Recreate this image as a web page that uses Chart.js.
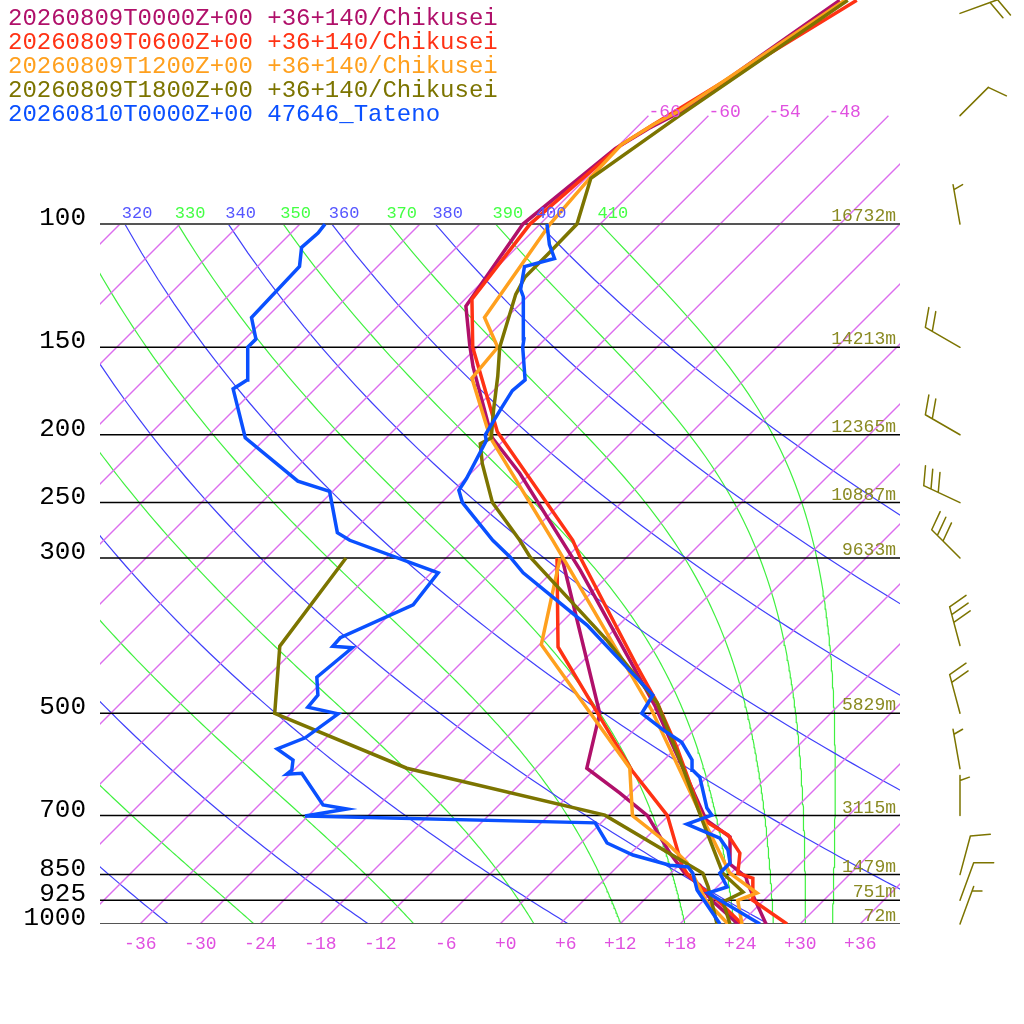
<!DOCTYPE html>
<html>
<head>
<meta charset="utf-8">
<title>Skew-T Chikusei / Tateno</title>
<script src="https://cdn.jsdelivr.net/npm/chart.js@4.4.1/dist/chart.umd.min.js"></script>
<style>
  html, body { margin: 0; padding: 0; background: #fff; }
  #skewt { display: block; width: 1024px; height: 1024px; }
</style>
</head>
<body>
<canvas id="skewt" width="1024" height="1024"></canvas>
<script>
// ---- series (pressure hPa, temperature degC) ----

// 20260810T0000Z Tateno sounding
const tatenoP  = [1000, 903, 885, 846, 818, 784, 754, 720, 699, 683, 617, 603, 583, 550, 528, 500, 483, 471, 374, 315, 299, 283, 250, 240, 231, 204, 200, 184, 173, 167, 150, 146, 127, 124, 115, 112, 107, 100];
const tatenoT  = [26.0, 17.7, 19.0, 16.9, 16.9, 15.4, 13.4, 8.7, 10.3, 9.1, 5.3, 3.9, 2.8, 0.0, -3.1, -6.9, -7.3, -7.6, -21.2, -32.8, -35.7, -39.1, -45.9, -47.5, -47.9, -49.7, -50.4, -51.4, -52.1, -51.9, -55.4, -56.1, -60.4, -61.4, -63.3, -61.1, -63.0, -65.3];
const tatenoTdP = [1000, 894, 846, 829, 824, 797, 766, 717, 701, 685, 676, 609, 611, 603, 583, 562, 542, 501, 490, 471, 444, 403, 401, 390, 350, 315, 283, 276, 241, 233, 202, 172, 167, 150, 146, 136, 115, 108, 103, 100];
const tatenoTd = [22.0, 16.3, 14.2, 13.1, 11.1, 6.4, 2.6, -0.6, -30.3, -26.8, -29.6, -34.9, -36.3, -36.2, -37.1, -39.8, -38.1, -37.2, -40.9, -41.1, -43.0, -42.4, -44.5, -44.6, -40.6, -41.3, -53.4, -55.4, -60.3, -64.5, -74.1, -80.2, -79.7, -82.9, -82.9, -85.5, -85.8, -87.5, -87.3, -87.5];

// 20260809T1800Z model
const t18P  = [1000, 930, 900, 846, 710, 583, 483, 393, 299, 283, 250, 220, 206, 202, 184, 165, 150, 126, 119, 110, 100, 86, 70, 47.9];
const t18T  = [23.0, 20.1, 21.1, 17.2, 9.8, 1.6, -6.4, -17.7, -33.7, -36.4, -42.9, -47.8, -50.0, -49.5, -52.1, -55.0, -57.7, -61.4, -62.2, -62.2, -62.3, -65.5, -62.9, -57.6];
const t18TdP = [1000, 885, 846, 699, 599, 500, 401, 300];
const t18Td  = [21.7, 17.1, 15.2, -0.4, -24.9, -43.6, -49.8, -52.0];

// 20260809T1200Z model
const t12P  = [1000, 925, 903, 846, 694, 495, 312, 283, 204, 195, 166, 150, 136, 100, 86, 77, 72, 69, 47.9];
const t12T  = [24.2, 21.4, 22.6, 17.9, 8.9, -6.2, -28.4, -33.1, -49.1, -51.0, -57.4, -57.9, -62.2, -65.0, -65.6, -65.8, -64.6, -63.4, -57.9];
const t12TdP = [1000, 925, 816, 766, 700, 599, 399, 300];
const t12Td  = [22.8, 18.2, 12.5, 8.6, 2.4, -2.6, -23.8, -30.6];

// 20260809T0600Z model
const t06P  = [1000, 925, 860, 846, 792, 746, 710, 559, 483, 429, 299, 283, 198, 150, 128, 100, 77, 72, 47.9];
const t06T  = [28.7, 22.9, 20.7, 18.7, 16.9, 13.9, 9.9, 0.0, -6.4, -12.0, -28.7, -31.1, -49.5, -60.4, -65.3, -67.0, -65.8, -64.6, -56.7];
const t06TdP = [1000, 909, 885, 846, 824, 700, 603, 500, 402, 300];
const t06Td  = [24.2, 18.3, 16.3, 13.6, 12.3, 5.9, -2.2, -11.3, -21.9, -30.9];

// 20260809T0000Z model
const t00P  = [1000, 877, 857, 821, 751, 710, 487, 312, 227, 202, 197, 160, 149, 131, 100, 78, 73, 69, 47.9];
const t00T  = [26.6, 20.8, 19.9, 17.0, 14.3, 10.2, -6.4, -27.4, -43.1, -49.4, -50.4, -58.4, -60.9, -65.2, -67.7, -66.0, -64.7, -63.1, -58.4];
const t00TdP = [1000, 925, 880, 846, 792, 700, 650, 599, 500, 300];
const t00Td  = [23.8, 18.8, 16.1, 13.4, 9.9, 3.9, -1.1, -6.9, -11.1, -30.4];

// winds of the 1800Z run (direction deg, speed kt)
const windP   = [1000, 925, 850, 700, 600, 500, 400, 300, 250, 200, 150, 100, 70, 50];
const windDir = [20, 20, 15, 0, 350, 345, 345, 315, 295, 300, 300, 350, 45, 70];
const windKt  = [5, 10, 10, 5, 5, 20, 30, 30, 30, 20, 20, 5, 10, 20];

// standard levels and their heights
const levelP = [100, 150, 200, 250, 300, 500, 700, 850, 925, 1000];
const levelH = [16732, 14213, 12365, 10887, 9633, 5829, 3115, 1479, 751, 72];

// background families
const tempTicks   = [-36, -30, -24, -18, -12, -6, 0, 6, 12, 18, 24, 30, 36];
const isoTemps    = [-108, -102, -96, -90, -84, -78, -72, -66, -60, -54, -48, -42, -36, -30, -24, -18, -12, -6, 0, 6, 12, 18, 24, 30, 36];
const dryThetas   = [240, 260, 280, 300, 320, 340, 360, 380, 400];
const moistThetas = [250, 270, 290, 310, 330, 350, 370, 390, 410];

const legendNames = [
    '20260809T0000Z+00 +36+140/Chikusei',
    '20260809T0600Z+00 +36+140/Chikusei',
    '20260809T1200Z+00 +36+140/Chikusei',
    '20260809T1800Z+00 +36+140/Chikusei',
    '20260810T0000Z+00 47646_Tateno'
];
const legendColors = ['#b0106a', '#ff3214', '#ffa01e', '#7c7400', '#0a50ff'];

// ---- skew-T geometry ----
const SKEW = 30.4;     // x shift (degC) per ln(1000/p)
const P_TOP = 47.85;   // pressure at the top edge of the plot
const MONO = '"Liberation Mono", "DejaVu Sans Mono", monospace';
const ISO_COLOR = 'rgb(220, 110, 238)';
const DRY_COLOR = 'rgb(64, 64, 250)';
const MOIST_COLOR = 'rgb(64, 240, 64)';

function skewX(t, p) {
    return t + SKEW * Math.log(1000 / p);
}

// saturation vapour pressure (hPa) and mixing ratio
function satVap(tc) {
    return 6.112 * Math.exp(17.67 * tc / (tc + 243.5));
}
function satMix(p, tc) {
    const e = satVap(tc);
    return 0.622 * e / (p - e);
}
// Bolton equivalent potential temperature of saturated air
function thetaE(p, tc) {
    const tk = tc + 273.15;
    const r = satMix(p, tc);
    return tk * Math.pow(1000 / p, 0.2854 * (1 - 0.28 * r)) * Math.exp((3376 / tk - 2.54) * r * (1 + 0.81 * r));
}
// pseudo-adiabatic lapse dT/dp
function moistLapse(p, tc) {
    const tk = tc + 273.15;
    const r = satMix(p, tc);
    const Rd = 287.04, cp = 1005.7, L = 2.501e6;
    return (Rd * tk + L * r) / (cp + L * L * r * 0.622 / (Rd * tk * tk)) / p;
}

function profileSet(pArr, tArr, color) {
    return {
        data: pArr.map((p, i) => ({ x: skewX(tArr[i], p), y: p })),
        borderColor: color,
        backgroundColor: color,
        borderWidth: 3.5,
        showLine: true,
        pointRadius: 0,
        tension: 0,
        fill: false
    };
}

function bgSet(points, color, width) {
    return {
        data: points,
        borderColor: color,
        backgroundColor: color,
        borderWidth: width || 1,
        showLine: true,
        pointRadius: 0,
        tension: 0,
        fill: false
    };
}

// isotherms: the warm ones reach 70 hPa
// (a 1px hairline at exactly 45 degrees comes out grey, so they get 1.4px)
const isoSets = isoTemps.map(t => {
    const top = t >= -66 ? 70 : 100;
    return bgSet([{ x: skewX(t, 1000), y: 1000 }, { x: skewX(t, top), y: top }], ISO_COLOR, 1.4);
});

// dry adiabats
const dryLabels = [];
const drySets = dryThetas.map(th => {
    const pts = [];
    for (let p = 1000; p >= 100; p -= 10) {
        const t = th * Math.pow(p / 1000, 0.286) - 273.15;
        pts.push({ x: skewX(t, p), y: p });
    }
    dryLabels.push({ text: String(th), x: pts[pts.length - 1].x });
    return bgSet(pts, DRY_COLOR, 1.2);
});

// moist (pseudo) adiabats integrated upward from 1000 hPa
const moistLabels = [];
const moistSets = moistThetas.map(th => {
    let lo = -60, hi = 50;
    for (let k = 0; k < 60; k++) {
        const mid = (lo + hi) / 2;
        if (thetaE(1000, mid) > th) hi = mid; else lo = mid;
    }
    let t = (lo + hi) / 2;
    const pts = [{ x: skewX(t, 1000), y: 1000 }];
    const dp = -5;
    for (let p = 1000; p > 100; p += dp) {
        const k1 = moistLapse(p, t);
        const k2 = moistLapse(p + dp, t + k1 * dp);
        t += 0.5 * (k1 + k2) * dp;
        pts.push({ x: skewX(t, p + dp), y: p + dp });
    }
    moistLabels.push({ text: String(th), x: pts[pts.length - 1].x });
    return bgSet(pts, MOIST_COLOR, 1.2);
});

// pressure level lines
const levelSets = levelP.map(p => {
    const edge = (p === 100 || p === 1000);
    return bgSet([{ x: -40, y: p }, { x: 40, y: p }], edge ? '#555555' : '#000000', edge ? 2 : 1.5);
});

// first dataset is painted last (on top)
const datasets = [
    profileSet(tatenoTdP, tatenoTd, '#0a50ff'),
    profileSet(tatenoP, tatenoT, '#0a50ff'),
    profileSet(t18TdP, t18Td, '#7c7400'),
    profileSet(t18P, t18T, '#7c7400'),
    profileSet(t12TdP, t12Td, '#ffa01e'),
    profileSet(t12P, t12T, '#ffa01e'),
    profileSet(t06TdP, t06Td, '#ff3214'),
    profileSet(t06P, t06T, '#ff3214'),
    profileSet(t00TdP, t00Td, '#b0106a'),
    profileSet(t00P, t00T, '#b0106a'),
    ...levelSets,
    ...isoSets,
    ...drySets,
    ...moistSets
];

// text, labels and wind barbs
const decorPlugin = {
    id: 'skewDecor',
    afterDraw(chart) {
        const ctx = chart.ctx;
        const xs = chart.scales.x;
        const ys = chart.scales.y;
        const area = chart.chartArea;
        ctx.save();

        // legend block
        ctx.font = '24px ' + MONO;
        ctx.textAlign = 'left';
        ctx.textBaseline = 'alphabetic';
        legendNames.forEach((name, i) => {
            ctx.fillStyle = legendColors[i];
            ctx.fillText(name, 8, 25 + 24 * i);
        });

        // pressure labels
        ctx.font = '26px ' + MONO;
        ctx.fillStyle = '#000';
        ctx.textAlign = 'right';
        levelP.forEach(p => {
            ctx.fillText(String(p), 86, ys.getPixelForValue(p) + 1);
        });

        // heights
        ctx.font = '18px ' + MONO;
        ctx.fillStyle = '#8a8a22';
        levelP.forEach((p, i) => {
            ctx.fillText(levelH[i] + 'm', area.right - 4, ys.getPixelForValue(p) - 3);
        });

        // temperature labels along the bottom
        ctx.fillStyle = '#e050e0';
        tempTicks.forEach(t => {
            const label = t > 0 ? '+' + t : (t === 0 ? '+0' : String(t));
            ctx.fillText(label, xs.getPixelForValue(t) + 16.5, area.bottom + 25);
        });

        // isotherm labels at the top of the long isotherms
        ctx.textAlign = 'left';
        isoTemps.forEach(t => {
            if (t < -66) return;
            const px = xs.getPixelForValue(skewX(t, 70));
            if (px + 36 > area.right) return;
            ctx.fillText(String(t), px, ys.getPixelForValue(70) + 1);
        });

        // theta labels at 100 hPa, clipped to the plot
        ctx.save();
        ctx.beginPath();
        ctx.rect(area.left, 0, area.right - area.left, area.bottom);
        ctx.clip();
        ctx.font = '17px ' + MONO;
        const y100 = ys.getPixelForValue(100) - 6;
        dryLabels.forEach(l => {
            ctx.fillStyle = '#5555ff';
            ctx.fillText(l.text, xs.getPixelForValue(l.x) - 3, y100);
        });
        moistLabels.forEach(l => {
            ctx.fillStyle = '#44ff44';
            ctx.fillText(l.text, xs.getPixelForValue(l.x) - 3, y100);
        });
        ctx.restore();

        // wind barbs
        ctx.strokeStyle = '#7c7400';
        ctx.lineWidth = 1.5;
        ctx.lineCap = 'round';
        windP.forEach((p, i) => {
            const bx = 960;
            const by = ys.getPixelForValue(p);
            const rad = windDir[i] * Math.PI / 180;
            const ux = Math.sin(rad), uy = -Math.cos(rad);
            const tx = bx + 40 * ux, ty = by + 40 * uy;
            ctx.beginPath();
            ctx.moveTo(bx, by);
            ctx.lineTo(tx, ty);
            const a = Math.atan2(uy, ux) + 70 * Math.PI / 180;
            const vx = Math.cos(a), vy = Math.sin(a);
            const full = Math.floor(windKt[i] / 10);
            const half = windKt[i] % 10 >= 5;
            let off = 0;
            for (let f = 0; f < full; f++) {
                const sx = tx - off * ux, sy = ty - off * uy;
                ctx.moveTo(sx, sy);
                ctx.lineTo(sx + 20 * vx, sy + 20 * vy);
                off += 8;
            }
            if (half) {
                if (full === 0) off = 5;
                const sx = tx - off * ux, sy = ty - off * uy;
                ctx.moveTo(sx, sy);
                ctx.lineTo(sx + 10 * vx, sy + 10 * vy);
            }
            ctx.stroke();
        });

        ctx.restore();
    }
};

new Chart(document.getElementById('skewt'), {
    type: 'scatter',
    data: { datasets: datasets },
    options: {
        responsive: false,
        animation: false,
        devicePixelRatio: 1,
        events: [],
        layout: { padding: { left: 100, right: 124, top: 0, bottom: 100 } },
        plugins: {
            legend: { display: false },
            tooltip: { enabled: false }
        },
        scales: {
            x: { type: 'linear', min: -40, max: 40, display: false },
            y: { type: 'logarithmic', min: P_TOP, max: 1000, reverse: true, display: false }
        }
    },
    plugins: [decorPlugin]
});
</script>
</body>
</html>
